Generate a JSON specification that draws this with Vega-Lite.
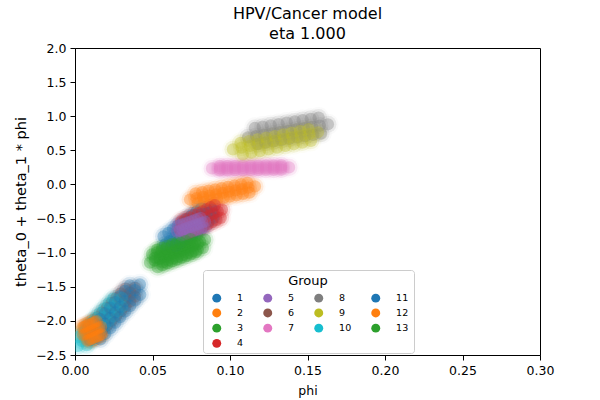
{
"$schema":"https://vega.github.io/schema/vega-lite/v6.json",
"autosize":{"type":"none"},
"width":465,"height":307,
"padding":{"left":75,"top":48,"right":60,"bottom":45},
"title":{"text":["HPV/Cancer model","eta 1.000"],"fontSize":16,"fontWeight":"normal","font":"DejaVu Sans","color":"black","lineHeight":20,"offset":0,"anchor":"middle"},
"data":{"values":[
{"g":"1","phi":0.0581,"y":-0.882},{"g":"1","phi":0.0611,"y":-0.831},{"g":"1","phi":0.0642,"y":-0.779},{"g":"1","phi":0.0672,"y":-0.728},{"g":"1","phi":0.0702,"y":-0.676},{"g":"1","phi":0.0733,"y":-0.625},{"g":"1","phi":0.0763,"y":-0.574},{"g":"1","phi":0.0793,"y":-0.522},{"g":"1","phi":0.0823,"y":-0.471},{"g":"1","phi":0.0854,"y":-0.419},{"g":"1","phi":0.0884,"y":-0.368},
{"g":"1","phi":0.0651,"y":-0.901},{"g":"1","phi":0.0682,"y":-0.849},{"g":"1","phi":0.0712,"y":-0.798},{"g":"1","phi":0.0742,"y":-0.746},{"g":"1","phi":0.0773,"y":-0.695},{"g":"1","phi":0.0803,"y":-0.644},{"g":"1","phi":0.0833,"y":-0.592},{"g":"1","phi":0.0863,"y":-0.541},{"g":"1","phi":0.0894,"y":-0.489},
{"g":"1","phi":0.0571,"y":-0.761},{"g":"1","phi":0.0602,"y":-0.709},{"g":"1","phi":0.0632,"y":-0.658},{"g":"1","phi":0.0662,"y":-0.606},{"g":"1","phi":0.0693,"y":-0.555},{"g":"1","phi":0.0723,"y":-0.504},{"g":"1","phi":0.0753,"y":-0.452},{"g":"1","phi":0.0783,"y":-0.401},{"g":"1","phi":0.0814,"y":-0.349},
{"g":"2","phi":0.0742,"y":-0.221},{"g":"2","phi":0.0784,"y":-0.202},{"g":"2","phi":0.0826,"y":-0.183},{"g":"2","phi":0.0868,"y":-0.163},{"g":"2","phi":0.0910,"y":-0.144},{"g":"2","phi":0.0952,"y":-0.125},{"g":"2","phi":0.0993,"y":-0.106},{"g":"2","phi":0.1035,"y":-0.087},{"g":"2","phi":0.1077,"y":-0.067},{"g":"2","phi":0.1119,"y":-0.048},{"g":"2","phi":0.1161,"y":-0.029},
{"g":"2","phi":0.0791,"y":-0.274},{"g":"2","phi":0.0833,"y":-0.255},{"g":"2","phi":0.0875,"y":-0.235},{"g":"2","phi":0.0917,"y":-0.216},{"g":"2","phi":0.0959,"y":-0.197},{"g":"2","phi":0.0999,"y":-0.178},{"g":"2","phi":0.1042,"y":-0.159},{"g":"2","phi":0.1084,"y":-0.139},{"g":"2","phi":0.1126,"y":-0.120},
{"g":"2","phi":0.0778,"y":-0.130},{"g":"2","phi":0.0820,"y":-0.111},{"g":"2","phi":0.0862,"y":-0.091},{"g":"2","phi":0.0904,"y":-0.072},{"g":"2","phi":0.0946,"y":-0.053},{"g":"2","phi":0.0986,"y":-0.034},{"g":"2","phi":0.1029,"y":-0.015},{"g":"2","phi":0.1071,"y":0.005},{"g":"2","phi":0.1113,"y":0.024},
{"g":"3","phi":0.0516,"y":-1.074},{"g":"3","phi":0.0548,"y":-1.048},{"g":"3","phi":0.0581,"y":-1.021},{"g":"3","phi":0.0613,"y":-0.995},{"g":"3","phi":0.0645,"y":-0.968},{"g":"3","phi":0.0678,"y":-0.942},{"g":"3","phi":0.0710,"y":-0.915},{"g":"3","phi":0.0742,"y":-0.889},{"g":"3","phi":0.0774,"y":-0.862},{"g":"3","phi":0.0807,"y":-0.836},{"g":"3","phi":0.0839,"y":-0.809},
{"g":"3","phi":0.0566,"y":-1.142},{"g":"3","phi":0.0599,"y":-1.115},{"g":"3","phi":0.0631,"y":-1.089},{"g":"3","phi":0.0663,"y":-1.062},{"g":"3","phi":0.0696,"y":-1.036},{"g":"3","phi":0.0728,"y":-1.009},{"g":"3","phi":0.0760,"y":-0.983},{"g":"3","phi":0.0792,"y":-0.956},{"g":"3","phi":0.0825,"y":-0.930},
{"g":"3","phi":0.0530,"y":-0.954},{"g":"3","phi":0.0563,"y":-0.927},{"g":"3","phi":0.0595,"y":-0.901},{"g":"3","phi":0.0627,"y":-0.874},{"g":"3","phi":0.0660,"y":-0.848},{"g":"3","phi":0.0692,"y":-0.821},{"g":"3","phi":0.0724,"y":-0.795},{"g":"3","phi":0.0756,"y":-0.768},{"g":"3","phi":0.0789,"y":-0.742},
{"g":"4","phi":0.0677,"y":-0.662},{"g":"4","phi":0.0704,"y":-0.633},{"g":"4","phi":0.0731,"y":-0.603},{"g":"4","phi":0.0758,"y":-0.574},{"g":"4","phi":0.0785,"y":-0.544},{"g":"4","phi":0.0813,"y":-0.515},{"g":"4","phi":0.0840,"y":-0.486},{"g":"4","phi":0.0867,"y":-0.456},{"g":"4","phi":0.0894,"y":-0.427},{"g":"4","phi":0.0921,"y":-0.397},{"g":"4","phi":0.0948,"y":-0.368},
{"g":"4","phi":0.0723,"y":-0.726},{"g":"4","phi":0.0750,"y":-0.696},{"g":"4","phi":0.0777,"y":-0.667},{"g":"4","phi":0.0804,"y":-0.637},{"g":"4","phi":0.0832,"y":-0.608},{"g":"4","phi":0.0859,"y":-0.579},{"g":"4","phi":0.0886,"y":-0.549},{"g":"4","phi":0.0913,"y":-0.520},{"g":"4","phi":0.0940,"y":-0.490},
{"g":"4","phi":0.0685,"y":-0.540},{"g":"4","phi":0.0712,"y":-0.510},{"g":"4","phi":0.0739,"y":-0.481},{"g":"4","phi":0.0766,"y":-0.451},{"g":"4","phi":0.0794,"y":-0.422},{"g":"4","phi":0.0821,"y":-0.393},{"g":"4","phi":0.0848,"y":-0.363},{"g":"4","phi":0.0875,"y":-0.334},{"g":"4","phi":0.0902,"y":-0.304},
{"g":"5","phi":0.0658,"y":-0.691},{"g":"5","phi":0.0676,"y":-0.676},{"g":"5","phi":0.0694,"y":-0.662},{"g":"5","phi":0.0712,"y":-0.647},{"g":"5","phi":0.0730,"y":-0.632},{"g":"5","phi":0.0749,"y":-0.618},{"g":"5","phi":0.0767,"y":-0.603},{"g":"5","phi":0.0785,"y":-0.588},{"g":"5","phi":0.0803,"y":-0.573},{"g":"5","phi":0.0821,"y":-0.559},{"g":"5","phi":0.0839,"y":-0.544},
{"g":"5","phi":0.0687,"y":-0.745},{"g":"5","phi":0.0705,"y":-0.731},{"g":"5","phi":0.0723,"y":-0.716},{"g":"5","phi":0.0741,"y":-0.701},{"g":"5","phi":0.0760,"y":-0.687},{"g":"5","phi":0.0778,"y":-0.672},{"g":"5","phi":0.0796,"y":-0.657},{"g":"5","phi":0.0814,"y":-0.642},{"g":"5","phi":0.0832,"y":-0.628},
{"g":"5","phi":0.0665,"y":-0.607},{"g":"5","phi":0.0683,"y":-0.593},{"g":"5","phi":0.0701,"y":-0.578},{"g":"5","phi":0.0719,"y":-0.563},{"g":"5","phi":0.0738,"y":-0.549},{"g":"5","phi":0.0756,"y":-0.534},{"g":"5","phi":0.0774,"y":-0.519},{"g":"5","phi":0.0792,"y":-0.504},{"g":"5","phi":0.0810,"y":-0.490},
{"g":"6","phi":0.0084,"y":-2.221},{"g":"6","phi":0.0114,"y":-2.150},{"g":"6","phi":0.0145,"y":-2.080},{"g":"6","phi":0.0175,"y":-2.009},{"g":"6","phi":0.0205,"y":-1.939},{"g":"6","phi":0.0236,"y":-1.868},{"g":"6","phi":0.0266,"y":-1.797},{"g":"6","phi":0.0296,"y":-1.727},{"g":"6","phi":0.0326,"y":-1.656},{"g":"6","phi":0.0357,"y":-1.586},{"g":"6","phi":0.0387,"y":-1.515},
{"g":"6","phi":0.0144,"y":-2.210},{"g":"6","phi":0.0175,"y":-2.140},{"g":"6","phi":0.0205,"y":-2.069},{"g":"6","phi":0.0235,"y":-1.999},{"g":"6","phi":0.0266,"y":-1.928},{"g":"6","phi":0.0296,"y":-1.857},{"g":"6","phi":0.0326,"y":-1.787},{"g":"6","phi":0.0356,"y":-1.716},{"g":"6","phi":0.0387,"y":-1.646},
{"g":"6","phi":0.0084,"y":-2.090},{"g":"6","phi":0.0115,"y":-2.020},{"g":"6","phi":0.0145,"y":-1.949},{"g":"6","phi":0.0175,"y":-1.879},{"g":"6","phi":0.0206,"y":-1.808},{"g":"6","phi":0.0236,"y":-1.737},{"g":"6","phi":0.0266,"y":-1.667},{"g":"6","phi":0.0296,"y":-1.596},{"g":"6","phi":0.0327,"y":-1.526},
{"g":"7","phi":0.0884,"y":0.235},{"g":"7","phi":0.0934,"y":0.237},{"g":"7","phi":0.0983,"y":0.238},{"g":"7","phi":0.1033,"y":0.240},{"g":"7","phi":0.1083,"y":0.241},{"g":"7","phi":0.1133,"y":0.243},{"g":"7","phi":0.1182,"y":0.244},{"g":"7","phi":0.1232,"y":0.246},{"g":"7","phi":0.1282,"y":0.247},{"g":"7","phi":0.1331,"y":0.249},{"g":"7","phi":0.1381,"y":0.250},
{"g":"7","phi":0.0934,"y":0.267},{"g":"7","phi":0.0983,"y":0.268},{"g":"7","phi":0.1033,"y":0.270},{"g":"7","phi":0.1083,"y":0.271},{"g":"7","phi":0.1133,"y":0.273},{"g":"7","phi":0.1182,"y":0.274},{"g":"7","phi":0.1232,"y":0.276},{"g":"7","phi":0.1282,"y":0.277},{"g":"7","phi":0.1331,"y":0.279},
{"g":"7","phi":0.0934,"y":0.207},{"g":"7","phi":0.0983,"y":0.208},{"g":"7","phi":0.1033,"y":0.210},{"g":"7","phi":0.1083,"y":0.211},{"g":"7","phi":0.1133,"y":0.213},{"g":"7","phi":0.1182,"y":0.214},{"g":"7","phi":0.1232,"y":0.216},{"g":"7","phi":0.1282,"y":0.217},{"g":"7","phi":0.1331,"y":0.219},
{"g":"8","phi":0.1116,"y":0.691},{"g":"8","phi":0.1168,"y":0.710},{"g":"8","phi":0.1219,"y":0.729},{"g":"8","phi":0.1271,"y":0.748},{"g":"8","phi":0.1322,"y":0.767},{"g":"8","phi":0.1374,"y":0.787},{"g":"8","phi":0.1426,"y":0.806},{"g":"8","phi":0.1477,"y":0.825},{"g":"8","phi":0.1529,"y":0.844},{"g":"8","phi":0.1580,"y":0.863},{"g":"8","phi":0.1632,"y":0.882},
{"g":"8","phi":0.1176,"y":0.592},{"g":"8","phi":0.1227,"y":0.611},{"g":"8","phi":0.1279,"y":0.630},{"g":"8","phi":0.1330,"y":0.649},{"g":"8","phi":0.1382,"y":0.669},{"g":"8","phi":0.1434,"y":0.688},{"g":"8","phi":0.1485,"y":0.707},{"g":"8","phi":0.1537,"y":0.726},{"g":"8","phi":0.1588,"y":0.745},
{"g":"8","phi":0.1160,"y":0.828},{"g":"8","phi":0.1211,"y":0.847},{"g":"8","phi":0.1263,"y":0.866},{"g":"8","phi":0.1314,"y":0.885},{"g":"8","phi":0.1366,"y":0.905},{"g":"8","phi":0.1418,"y":0.924},{"g":"8","phi":0.1469,"y":0.943},{"g":"8","phi":0.1521,"y":0.962},{"g":"8","phi":0.1572,"y":0.981},
{"g":"9","phi":0.1019,"y":0.515},{"g":"9","phi":0.1074,"y":0.540},{"g":"9","phi":0.1129,"y":0.565},{"g":"9","phi":0.1184,"y":0.590},{"g":"9","phi":0.1239,"y":0.615},{"g":"9","phi":0.1294,"y":0.640},{"g":"9","phi":0.1348,"y":0.665},{"g":"9","phi":0.1403,"y":0.690},{"g":"9","phi":0.1458,"y":0.715},{"g":"9","phi":0.1513,"y":0.740},{"g":"9","phi":0.1568,"y":0.765},
{"g":"9","phi":0.1083,"y":0.439},{"g":"9","phi":0.1138,"y":0.464},{"g":"9","phi":0.1193,"y":0.489},{"g":"9","phi":0.1248,"y":0.514},{"g":"9","phi":0.1303,"y":0.539},{"g":"9","phi":0.1357,"y":0.564},{"g":"9","phi":0.1412,"y":0.589},{"g":"9","phi":0.1467,"y":0.614},{"g":"9","phi":0.1522,"y":0.639},
{"g":"9","phi":0.1068,"y":0.610},{"g":"9","phi":0.1123,"y":0.635},{"g":"9","phi":0.1178,"y":0.660},{"g":"9","phi":0.1233,"y":0.685},{"g":"9","phi":0.1288,"y":0.710},{"g":"9","phi":0.1342,"y":0.735},{"g":"9","phi":0.1397,"y":0.760},{"g":"9","phi":0.1452,"y":0.785},{"g":"9","phi":0.1507,"y":0.810},
{"g":"10","phi":0.0019,"y":-2.368},{"g":"10","phi":0.0047,"y":-2.297},{"g":"10","phi":0.0076,"y":-2.227},{"g":"10","phi":0.0104,"y":-2.156},{"g":"10","phi":0.0133,"y":-2.086},{"g":"10","phi":0.0161,"y":-2.015},{"g":"10","phi":0.0189,"y":-1.944},{"g":"10","phi":0.0218,"y":-1.874},{"g":"10","phi":0.0246,"y":-1.803},{"g":"10","phi":0.0275,"y":-1.733},{"g":"10","phi":0.0303,"y":-1.662},
{"g":"10","phi":0.0076,"y":-2.356},{"g":"10","phi":0.0105,"y":-2.286},{"g":"10","phi":0.0133,"y":-2.215},{"g":"10","phi":0.0162,"y":-2.145},{"g":"10","phi":0.0190,"y":-2.074},{"g":"10","phi":0.0218,"y":-2.003},{"g":"10","phi":0.0247,"y":-1.933},{"g":"10","phi":0.0275,"y":-1.862},{"g":"10","phi":0.0304,"y":-1.792},
{"g":"10","phi":0.0018,"y":-2.238},{"g":"10","phi":0.0047,"y":-2.168},{"g":"10","phi":0.0075,"y":-2.097},{"g":"10","phi":0.0104,"y":-2.027},{"g":"10","phi":0.0132,"y":-1.956},{"g":"10","phi":0.0160,"y":-1.885},{"g":"10","phi":0.0189,"y":-1.815},{"g":"10","phi":0.0217,"y":-1.744},{"g":"10","phi":0.0246,"y":-1.674},
{"g":"11","phi":0.0097,"y":-2.284},{"g":"11","phi":0.0129,"y":-2.202},{"g":"11","phi":0.0161,"y":-2.120},{"g":"11","phi":0.0194,"y":-2.039},{"g":"11","phi":0.0226,"y":-1.957},{"g":"11","phi":0.0258,"y":-1.875},{"g":"11","phi":0.0290,"y":-1.793},{"g":"11","phi":0.0322,"y":-1.711},{"g":"11","phi":0.0355,"y":-1.630},{"g":"11","phi":0.0387,"y":-1.548},{"g":"11","phi":0.0419,"y":-1.466},
{"g":"11","phi":0.0163,"y":-2.271},{"g":"11","phi":0.0195,"y":-2.189},{"g":"11","phi":0.0228,"y":-2.108},{"g":"11","phi":0.0260,"y":-2.026},{"g":"11","phi":0.0292,"y":-1.944},{"g":"11","phi":0.0324,"y":-1.862},{"g":"11","phi":0.0356,"y":-1.780},{"g":"11","phi":0.0389,"y":-1.699},{"g":"11","phi":0.0421,"y":-1.617},
{"g":"11","phi":0.0096,"y":-2.133},{"g":"11","phi":0.0128,"y":-2.051},{"g":"11","phi":0.0161,"y":-1.970},{"g":"11","phi":0.0193,"y":-1.888},{"g":"11","phi":0.0225,"y":-1.806},{"g":"11","phi":0.0257,"y":-1.724},{"g":"11","phi":0.0289,"y":-1.642},{"g":"11","phi":0.0322,"y":-1.561},{"g":"11","phi":0.0354,"y":-1.479},
{"g":"12","phi":0.0052,"y":-2.206},{"g":"12","phi":0.0064,"y":-2.194},{"g":"12","phi":0.0075,"y":-2.182},{"g":"12","phi":0.0087,"y":-2.171},{"g":"12","phi":0.0098,"y":-2.159},{"g":"12","phi":0.0110,"y":-2.147},{"g":"12","phi":0.0122,"y":-2.135},{"g":"12","phi":0.0133,"y":-2.123},{"g":"12","phi":0.0145,"y":-2.112},{"g":"12","phi":0.0156,"y":-2.100},{"g":"12","phi":0.0168,"y":-2.088},
{"g":"12","phi":0.0080,"y":-2.290},{"g":"12","phi":0.0091,"y":-2.278},{"g":"12","phi":0.0103,"y":-2.267},{"g":"12","phi":0.0114,"y":-2.255},{"g":"12","phi":0.0126,"y":-2.243},{"g":"12","phi":0.0138,"y":-2.231},{"g":"12","phi":0.0149,"y":-2.219},{"g":"12","phi":0.0161,"y":-2.208},{"g":"12","phi":0.0172,"y":-2.196},
{"g":"12","phi":0.0048,"y":-2.098},{"g":"12","phi":0.0059,"y":-2.086},{"g":"12","phi":0.0071,"y":-2.075},{"g":"12","phi":0.0082,"y":-2.063},{"g":"12","phi":0.0094,"y":-2.051},{"g":"12","phi":0.0106,"y":-2.039},{"g":"12","phi":0.0117,"y":-2.027},{"g":"12","phi":0.0129,"y":-2.016},{"g":"12","phi":0.0140,"y":-2.004},
{"g":"13","phi":0.0484,"y":-1.147},{"g":"13","phi":0.0515,"y":-1.119},{"g":"13","phi":0.0546,"y":-1.091},{"g":"13","phi":0.0577,"y":-1.063},{"g":"13","phi":0.0608,"y":-1.035},{"g":"13","phi":0.0639,"y":-1.008},{"g":"13","phi":0.0670,"y":-0.980},{"g":"13","phi":0.0701,"y":-0.952},{"g":"13","phi":0.0732,"y":-0.924},{"g":"13","phi":0.0763,"y":-0.896},{"g":"13","phi":0.0794,"y":-0.868},
{"g":"13","phi":0.0533,"y":-1.213},{"g":"13","phi":0.0564,"y":-1.185},{"g":"13","phi":0.0595,"y":-1.157},{"g":"13","phi":0.0626,"y":-1.129},{"g":"13","phi":0.0657,"y":-1.102},{"g":"13","phi":0.0688,"y":-1.074},{"g":"13","phi":0.0719,"y":-1.046},{"g":"13","phi":0.0750,"y":-1.018},{"g":"13","phi":0.0781,"y":-0.990},
{"g":"13","phi":0.0497,"y":-1.025},{"g":"13","phi":0.0528,"y":-0.997},{"g":"13","phi":0.0559,"y":-0.969},{"g":"13","phi":0.0590,"y":-0.941},{"g":"13","phi":0.0621,"y":-0.914},{"g":"13","phi":0.0652,"y":-0.886},{"g":"13","phi":0.0683,"y":-0.858},{"g":"13","phi":0.0714,"y":-0.830},{"g":"13","phi":0.0745,"y":-0.802}
]},
"encoding":{
"x":{"field":"phi","type":"quantitative","scale":{"domain":[0,0.3],"nice":false,"zero":false},"axis":{"title":"phi","values":[0,0.05,0.1,0.15,0.2,0.25,0.3],"format":".2f","titleFontSize":12.5,"labelPadding":4,"titlePadding":8}},
"y":{"field":"y","type":"quantitative","scale":{"domain":[-2.5,2.0],"nice":false,"zero":false},"axis":{"title":"theta_0 + theta_1 * phi","values":[-2.5,-2,-1.5,-1,-0.5,0,0.5,1,1.5,2],"format":".1f","titleFontSize":14.5,"titlePadding":7}},
"color":{"field":"g","type":"nominal","scale":{"domain":["1","5","8","11","2","6","9","12","3","7","10","13","4"],"range":["#1f77b4","#9467bd","#7f7f7f","#1f77b4","#ff7f0e","#8c564b","#bcbd22","#ff7f0e","#2ca02c","#e377c2","#17becf","#2ca02c","#d62728"]},
"legend":{"title":"Group","orient":"none","direction":"horizontal","legendX":128,"legendY":222,"columns":4,"columnPadding":15,"gridAlign":"each","rowPadding":4.2}}
},
"layer":[
{"mark":{"type":"circle","size":450,"opacity":0.035,"clip":true}},
{"mark":{"type":"circle","size":290,"opacity":0.13,"clip":true}},
{"mark":{"type":"circle","size":150,"opacity":0.34,"clip":true}}
],
"config":{
"font":"DejaVu Sans",
"view":{"stroke":"black","strokeWidth":1},
"axis":{"grid":false,"domainColor":"black","domainWidth":1,"tickColor":"black","tickSize":5,"tickWidth":1,"labelColor":"black","labelFontSize":12.5,"labelFont":"DejaVu Sans","labelPadding":4,"titleColor":"black","titleFont":"DejaVu Sans","titleFontWeight":"normal","titlePadding":4,"labelFlush":false,"labelOverlap":false},
"legend":{"titleFontSize":13,"titleFontWeight":"normal","titleColor":"black","titleAnchor":"middle","titleOrient":"top","titlePadding":5,"labelFontSize":9.5,"labelColor":"black","symbolType":"circle","symbolSize":80,"symbolOpacity":1,"symbolStrokeWidth":0,"padding":5,"symbolOffset":4,"labelOffset":15.6,"strokeColor":"#cccccc","fillColor":"rgba(255,255,255,0.8)","cornerRadius":3}
}
}
